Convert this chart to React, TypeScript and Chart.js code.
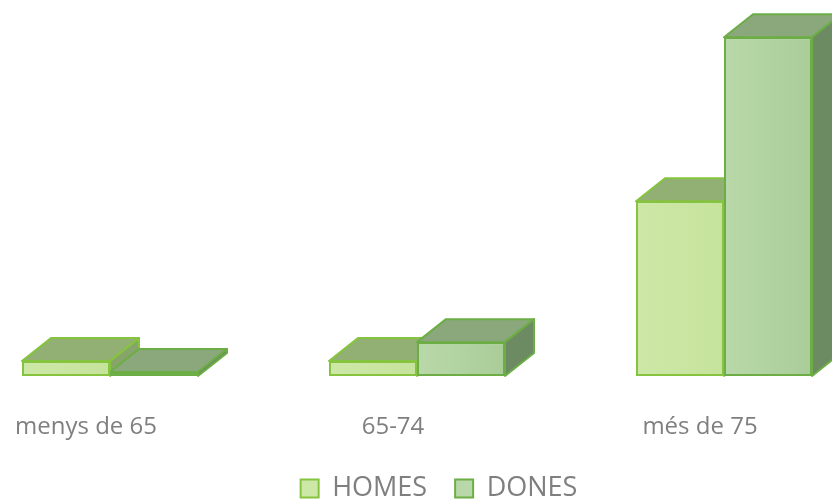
import React, { useEffect, useRef } from "react";
import { Chart, registerables } from "chart.js";

Chart.register(...registerables);

const categories = ["menys de 65", "65-74", "més de 75"];
const homesValues = [4.4, 4.4, 51.6];
const donesValues = [1.2, 10, 100];
const seriesLabels = ["HOMES", "DONES"];

const FRONT = ["#cde8a6", "#b9d8a9"];
const FRONT_END = ["#c6e39c", "#a9cd99"];
const BORDER = ["#86c440", "#6cae45"];
const TOP = ["#92af74", "#8aa87b"];
const SIDE = ["#87a56a", "#6d8b62"];
const DEPTH_X = 29;
const DEPTH_Y = -23;

const threeD = {
  id: "threeD",
  beforeDatasetsDraw(chart: any) {
    const ctx = chart.ctx;
    const metas = [chart.getDatasetMeta(0), chart.getDatasetMeta(1)];
    const n = categories.length;
    ctx.save();
    ctx.lineJoin = "round";
    ctx.lineWidth = 2;
    for (let j = 0; j < n; j++) {
      for (let d = 0; d < metas.length; d++) {
        const el = metas[d].data[j];
        if (!el) continue;
        const { x, y, base, width } = el.getProps(["x", "y", "base", "width"], true);
        const l = x - width / 2;
        const r = x + width / 2;
        const t = Math.min(y, base);
        const b = Math.max(y, base);
        ctx.strokeStyle = BORDER[d];
        // top face
        ctx.beginPath();
        ctx.moveTo(l, t);
        ctx.lineTo(l + DEPTH_X, t + DEPTH_Y);
        ctx.lineTo(r + DEPTH_X, t + DEPTH_Y);
        ctx.lineTo(r, t);
        ctx.closePath();
        ctx.fillStyle = TOP[d];
        ctx.fill();
        ctx.stroke();
        // side face
        ctx.beginPath();
        ctx.moveTo(r, t);
        ctx.lineTo(r + DEPTH_X, t + DEPTH_Y);
        ctx.lineTo(r + DEPTH_X, b + DEPTH_Y);
        ctx.lineTo(r, b);
        ctx.closePath();
        ctx.fillStyle = SIDE[d];
        ctx.fill();
        ctx.stroke();
      }
    }
    ctx.restore();
  },
  afterDatasetsDraw(chart: any) {
    const ctx = chart.ctx;
    ctx.save();
    for (let d = 0; d < 2; d++) {
      const meta = chart.getDatasetMeta(d);
      meta.data.forEach((el: any) => {
        const { x, y, base, width } = el.getProps(["x", "y", "base", "width"], true);
        const l = x - width / 2 + 2;
        const r = x + width / 2 - 2;
        const t = Math.min(y, base) + 2;
        const b = Math.max(y, base) - 2;
        if (b - t <= 1) return;
        const g = ctx.createLinearGradient(l, 0, r, 0);
        g.addColorStop(0, FRONT[d]);
        g.addColorStop(1, FRONT_END[d]);
        ctx.fillStyle = g;
        ctx.fillRect(l, t, r - l, b - t);
      });
    }
    ctx.restore();
  },
};

export default function App() {
  const ref = useRef<HTMLCanvasElement | null>(null);
  useEffect(() => {
    if (!ref.current) return;
    Chart.defaults.font.family = "'Open Sans', sans-serif";
    const chart = new Chart(ref.current, {
      type: "bar",
      data: {
        labels: categories,
        datasets: [
          {
            label: seriesLabels[0],
            data: homesValues,
            backgroundColor: FRONT[0],
            borderColor: BORDER[0],
            borderWidth: 2,
            borderSkipped: false,
            categoryPercentage: 0.5733,
            barPercentage: 1,
          },
          {
            label: seriesLabels[1],
            data: donesValues,
            backgroundColor: FRONT[1],
            borderColor: BORDER[1],
            borderWidth: 2,
            borderSkipped: false,
            categoryPercentage: 0.5733,
            barPercentage: 1,
          },
        ],
      },
      options: {
        animation: false,
        responsive: true,
        maintainAspectRatio: false,
        layout: { padding: { left: 16.5, right: 6.5, top: 17, bottom: 0 } },
        plugins: {
          tooltip: { enabled: false },
          legend: {
            position: "bottom",
            labels: {
              boxWidth: 18,
              boxHeight: 18,
              padding: 28,
              color: "#7f7f7f",
              font: { family: "'Open Sans', sans-serif", size: 27 },
            },
          },
        },
        scales: {
          x: {
            grid: { display: false, drawTicks: false },
            border: { display: false },
            ticks: {
              color: "#7f7f7f",
              font: { family: "'Open Sans', sans-serif", size: 24 },
              padding: 37,
              labelOffset: -24,
              maxRotation: 0,
              autoSkip: false,
            },
            afterFit: (scale: any) => {
              scale.height = 71;
            },
          },
          y: {
            position: "right",
            min: 0,
            max: 106,
            grid: { display: false, drawTicks: false },
            border: { display: false },
            ticks: { display: false },
            afterFit: (scale: any) => {
              scale.width = 44;
            },
          },
        },
      },
      plugins: [threeD],
    });
    return () => chart.destroy();
  }, []);

  return (
    <div
      style={{
        position: "fixed",
        left: 0,
        top: 0,
        width: 832,
        height: 502,
        overflow: "hidden",
        background: "#ffffff",
      }}
    >
      <div style={{ position: "absolute", left: -60, top: 0, width: 988, height: 512 }}>
        <canvas ref={ref} />
      </div>
    </div>
  );
}
